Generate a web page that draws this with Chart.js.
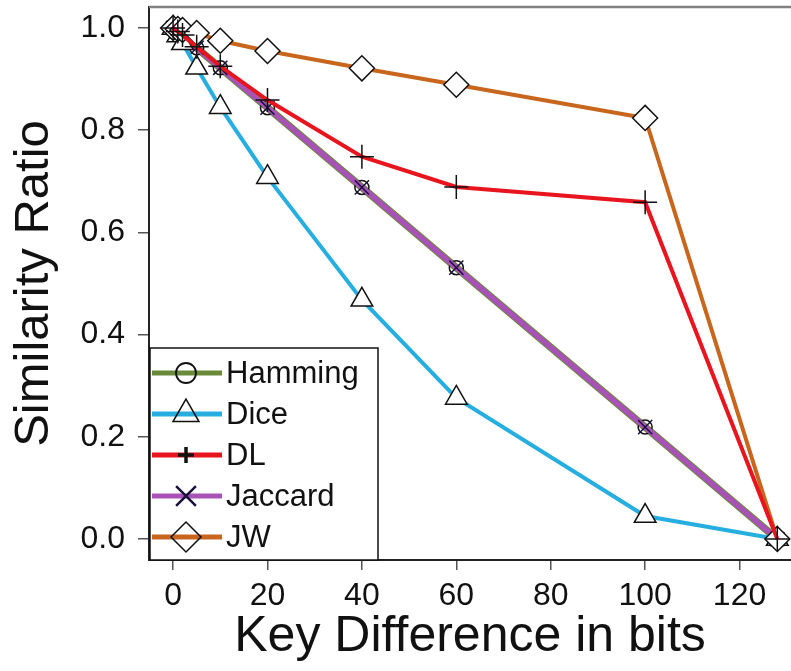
<!DOCTYPE html>
<html>
<head>
<meta charset="utf-8">
<script src="https://cdn.jsdelivr.net/npm/chart.js"></script>
<style>
  body { margin: 0; background: #fff; }
  canvas { display: block; }
</style>
</head>
<body>
<canvas id="myChart" width="791" height="671"></canvas>
<script>
// key difference (bits) on x, similarity ratio on y
const keyDiff = [0, 1, 2, 5, 10, 20, 40, 60, 100, 128];
const hamming = [1.0, 0.992, 0.984, 0.961, 0.922, 0.844, 0.688, 0.531, 0.219, 0.0];
const dice    = [1.0, 0.985, 0.970, 0.922, 0.845, 0.708, 0.468, 0.276, 0.045, 0.0];
const dl      = [1.0, 0.993, 0.986, 0.963, 0.925, 0.859, 0.748, 0.689, 0.659, 0.0];
const jaccard = [1.0, 0.992, 0.984, 0.961, 0.922, 0.844, 0.688, 0.531, 0.219, 0.0];
const jw      = [1.0, 0.998, 0.996, 0.990, 0.975, 0.955, 0.921, 0.889, 0.824, 0.0];
const seriesNames = ["Hamming", "Dice", "DL", "Jaccard", "JW"];
const xTicks = [0, 20, 40, 60, 80, 100, 120];
const yTicks = [0.0, 0.2, 0.4, 0.6, 0.8, 1.0];

const FONT = "'Liberation Sans', Arial, sans-serif";
const toPoints = (values) => values.map((v, i) => ({ x: keyDiff[i], y: v }));

// 각 시리즈 스타일 (legendR / legendW = 범례 마커 크기)
const styles = [
    { color: "#6a8a3a", width: 7.5, point: "circle", radius: 7, fill: "rgba(0,0,0,0)", edge: "#111", order: 5, legendR: 10, legendW: 1.8 },
    { color: "#27aee0", width: 4, point: "triangle", radius: 12.5, fill: "#fff", edge: "#111", order: 3, legendR: 15, legendW: 1.5 },
    { color: "#e8141e", width: 4, point: "cross", radius: 12, fill: "rgba(0,0,0,0)", edge: "#111", order: 1, legendR: 8, legendW: 3.5 },
    { color: "#a852b8", width: 5.5, point: "crossRot", radius: 10, fill: "rgba(0,0,0,0)", edge: "#1a1040", order: 4, legendR: 14, legendW: 2.5 },
    { color: "#c8661e", width: 4, point: "rectRot", radius: 12.5, fill: "#fff", edge: "#111", order: 2, legendR: 15, legendW: 1.5 },
];
const allValues = [hamming, dice, dl, jaccard, jw];

const datasets = allValues.map((values, i) => ({
    label: seriesNames[i],
    data: toPoints(values),
    borderColor: styles[i].color,
    borderWidth: styles[i].width,
    pointStyle: styles[i].point,
    pointRadius: styles[i].radius,
    pointBackgroundColor: styles[i].fill,
    pointBorderColor: styles[i].edge,
    pointBorderWidth: 1.5,
    tension: 0,
    order: styles[i].order,
    clip: false,
}));

// 범례 박스 (선 + 마커)
const legendBox = {
    id: "legendBox",
    afterDraw(chart) {
        const ctx = chart.ctx;
        const left = 150, top = 348, right = 378, bottom = 560;
        ctx.save();
        ctx.fillStyle = "#fff";
        ctx.fillRect(left, top, right - left, bottom - top);
        ctx.strokeStyle = "#111";
        ctx.lineWidth = 1.5;
        ctx.strokeRect(left, top, right - left, bottom - top);
        seriesNames.forEach((name, i) => {
            const y = 373 + i * 41;
            const s = styles[i];
            ctx.strokeStyle = s.color;
            ctx.lineWidth = 5;
            ctx.beginPath();
            ctx.moveTo(152, y);
            ctx.lineTo(222, y);
            ctx.stroke();
            ctx.strokeStyle = s.edge;
            ctx.fillStyle = "rgba(0,0,0,0)";
            ctx.lineWidth = s.legendW;
            Chart.helpers.drawPoint(ctx, {
                pointStyle: s.point,
                radius: s.legendR,
                rotation: 0,
                borderWidth: s.legendW,
            }, 186, y);
            ctx.fillStyle = "#111";
            ctx.font = `31px ${FONT}`;
            ctx.textBaseline = "middle";
            ctx.textAlign = "left";
            ctx.fillText(name, 226, y + 1);
        });
        ctx.restore();
    }
};

// 위쪽 테두리
const topFrame = {
    id: "topFrame",
    afterDraw(chart) {
        const { ctx, chartArea } = chart;
        ctx.save();
        ctx.strokeStyle = "#808080";
        ctx.lineWidth = 2.5;
        ctx.beginPath();
        ctx.moveTo(chartArea.left, chartArea.top);
        ctx.lineTo(chartArea.right, chartArea.top);
        ctx.stroke();
        ctx.restore();
    }
};

const config = {
    type: "line",
    data: { datasets: datasets },
    options: {
        responsive: false,
        animation: false,
        layout: { autoPadding: false, padding: { top: 7, left: 0, right: 0, bottom: 0 } },
        plugins: {
            legend: { display: false },
            tooltip: { enabled: false },
        },
        scales: {
            x: {
                type: "linear",
                min: -5.1,
                max: 130.9,
                afterBuildTicks: (scale) => { scale.ticks = xTicks.map((v) => ({ value: v })); },
                afterFit: (scale) => {
                    scale.height = 111;
                    scale.paddingLeft = 0;
                    scale.paddingRight = 0;
                },
                grid: { display: true, drawOnChartArea: false, drawTicks: true, tickLength: 10, color: "#555", lineWidth: 1.5 },
                border: { display: true, color: "#222", width: 2 },
                ticks: {
                    padding: 7,
                    maxRotation: 0,
                    color: "#111",
                    font: { family: FONT, size: 32 },
                    callback: (v) => v.toString(),
                },
                title: {
                    display: true,
                    text: "Key Difference in bits",
                    color: "#111",
                    font: { family: FONT, size: 50 },
                    padding: { top: 0, bottom: 4 },
                },
            },
            y: {
                type: "linear",
                min: -0.041,
                max: 1.041,
                afterBuildTicks: (scale) => { scale.ticks = yTicks.map((v) => ({ value: v })); },
                afterFit: (scale) => {
                    scale.width = 149;
                    scale.paddingTop = 0;
                    scale.paddingBottom = 0;
                },
                grid: { display: true, drawOnChartArea: false, drawTicks: true, tickLength: 11, color: "#555", lineWidth: 1.5 },
                border: { display: true, color: "#222", width: 2 },
                ticks: {
                    padding: 13,
                    color: "#111",
                    font: { family: FONT, size: 32 },
                    callback: (v) => Number(v).toFixed(1),
                },
                title: {
                    display: true,
                    text: "Similarity Ratio",
                    color: "#111",
                    font: { family: FONT, size: 49 },
                    padding: { top: 5, bottom: 0 },
                },
            },
        },
    },
    plugins: [topFrame, legendBox],
};

const myChart = new Chart(document.getElementById("myChart"), config);
</script>
</body>
</html>
